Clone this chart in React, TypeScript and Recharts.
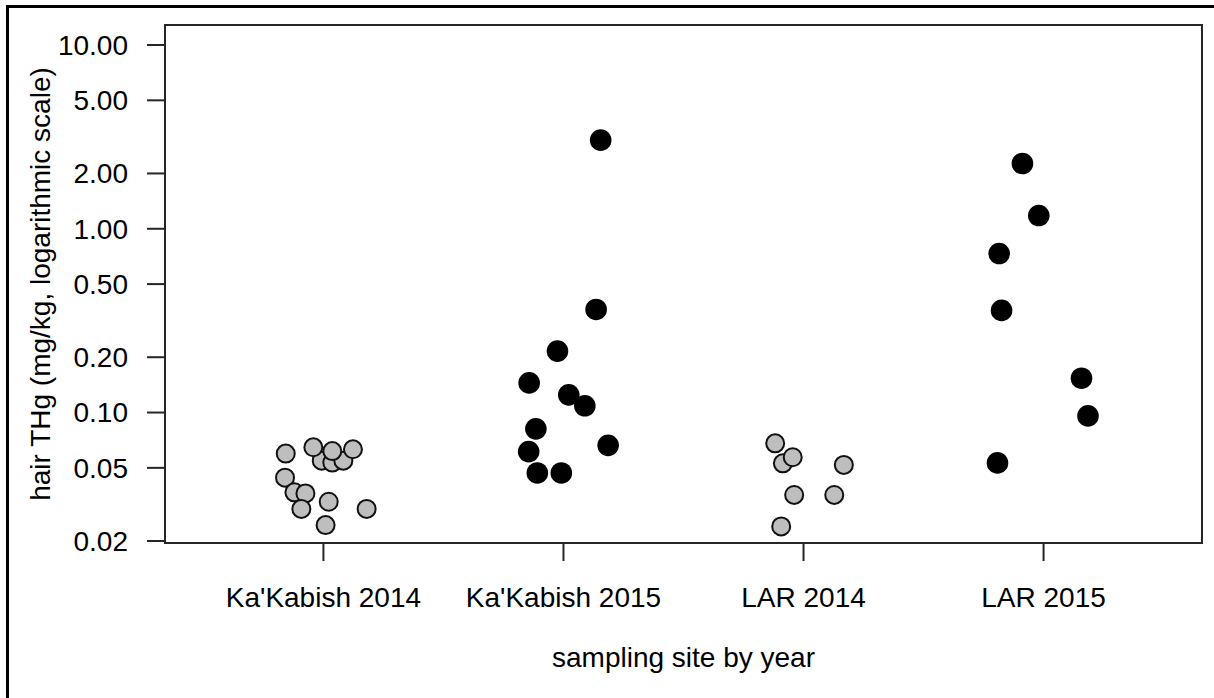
import React from 'react';
import { ScatterChart, Scatter, XAxis, YAxis, ReferenceArea } from 'recharts';

const categories = ["Ka'Kabish 2014", "Ka'Kabish 2015", 'LAR 2014', 'LAR 2015'];
const categoryTicks = [1, 2, 3, 4];
const yTicks = [0.02, 0.05, 0.1, 0.2, 0.5, 1, 2, 5, 10];

// jittered category positions and hair THg values (mg/kg)
const kk2014X = [0.993, 1.037, 1.083, 0.843, 0.958, 1.123, 1.037, 0.84, 0.879, 0.925, 0.908, 1.022, 1.18, 1.009];
const kk2014Y = [0.0547, 0.0534, 0.0547, 0.0598, 0.0647, 0.0631, 0.0617, 0.0442, 0.0368, 0.0363, 0.0299, 0.0327, 0.0299, 0.0244];

const kk2015X = [2.155, 2.136, 1.975, 1.857, 2.022, 2.089, 1.885, 1.855, 2.186, 1.891, 1.991];
const kk2015Y = [3.035, 0.364, 0.216, 0.145, 0.1248, 0.1088, 0.0815, 0.0613, 0.0663, 0.0469, 0.0469];

const lar2014X = [2.882, 2.914, 2.955, 3.168, 2.961, 3.128, 2.907];
const lar2014Y = [0.068, 0.0529, 0.0571, 0.0519, 0.0356, 0.0356, 0.024];

const lar2015X = [3.912, 3.98, 3.815, 3.825, 4.158, 4.185, 3.808];
const lar2015Y = [2.266, 1.18, 0.733, 0.3596, 0.1538, 0.0959, 0.0532];

const zip = (xs: number[], ys: number[]) => xs.map((x, i) => ({ x, y: ys[i] }));

const kk2014 = zip(kk2014X, kk2014Y);
const kk2015 = zip(kk2015X, kk2015Y);
const lar2014 = zip(lar2014X, lar2014Y);
const lar2015 = zip(lar2015X, lar2015Y);

const X_DOMAIN: [number, number] = [0.34, 4.66];
const Y_DOMAIN: [number, number] = [0.0195, 12.85];

const FONT = "'Liberation Sans', Arial, sans-serif";
const FS = 28;
const AXIS_COLOR = '#262626';

const GrayDot = (p: any) => (
  <circle cx={p.cx} cy={p.cy} r={9} fill="#bebebe" stroke="#111" strokeWidth={2} />
);
const BlackDot = (p: any) => <circle cx={p.cx} cy={p.cy} r={10.8} fill="#000" />;

const YTitle = (props: any) => {
  const vb = props.viewBox || { x: 0, y: 25, width: 165, height: 518 };
  const cx = 50;
  const cy = vb.y + vb.height / 2;
  return (
    <text
      x={cx}
      y={cy}
      transform={`rotate(-90, ${cx}, ${cy})`}
      textAnchor="middle"
      fontFamily={FONT}
      fontSize={FS}
      fill="#000"
    >
      hair THg (mg/kg, logarithmic scale)
    </text>
  );
};

export default function App() {
  return (
    <div style={{ position: 'absolute', left: 0, top: 0, width: 1214, height: 698, background: '#fff', overflow: 'hidden' }}>
      <ScatterChart width={1214} height={698} margin={{ top: 25, right: 12, bottom: 0, left: 0 }}>
        <ReferenceArea
          x1={X_DOMAIN[0]}
          x2={X_DOMAIN[1]}
          y1={Y_DOMAIN[0]}
          y2={Y_DOMAIN[1]}
          fill="none"
          fillOpacity={0}
          stroke={AXIS_COLOR}
          strokeWidth={2}
          ifOverflow="visible"
        />
        <XAxis
          type="number"
          dataKey="x"
          domain={X_DOMAIN}
          ticks={categoryTicks}
          allowDataOverflow
          interval={0}
          height={155}
          axisLine={false}
          tickSize={18}
          tickMargin={26}
          stroke={AXIS_COLOR}
          tickLine={{ stroke: AXIS_COLOR, strokeWidth: 2 }}
          tick={{ fill: '#000', fontSize: FS, fontFamily: FONT }}
          tickFormatter={(v: number) => categories[Math.round(v) - 1] ?? ''}
          label={{
            value: 'sampling site by year',
            position: 'insideBottom',
            offset: 31,
            fill: '#000',
            fontSize: FS,
            fontFamily: FONT,
          }}
        />
        <YAxis
          type="number"
          dataKey="y"
          scale="log"
          domain={Y_DOMAIN}
          ticks={yTicks}
          allowDataOverflow
          interval={0}
          width={165}
          axisLine={false}
          tickSize={18}
          tickMargin={19}
          stroke={AXIS_COLOR}
          tickLine={{ stroke: AXIS_COLOR, strokeWidth: 2 }}
          tick={{ fill: '#000', fontSize: FS, fontFamily: FONT }}
          tickFormatter={(v: number) => v.toFixed(2)}
          label={<YTitle />}
        />
        <Scatter data={kk2014} shape={GrayDot} isAnimationActive={false} />
        <Scatter data={kk2015} shape={BlackDot} isAnimationActive={false} />
        <Scatter data={lar2014} shape={GrayDot} isAnimationActive={false} />
        <Scatter data={lar2015} shape={BlackDot} isAnimationActive={false} />
      </ScatterChart>
      <div
        style={{
          position: 'absolute',
          left: 6,
          top: 5,
          width: 1220,
          height: 710,
          borderLeft: '3px solid #000',
          borderTop: '3px solid #000',
          pointerEvents: 'none',
        }}
      />
    </div>
  );
}
